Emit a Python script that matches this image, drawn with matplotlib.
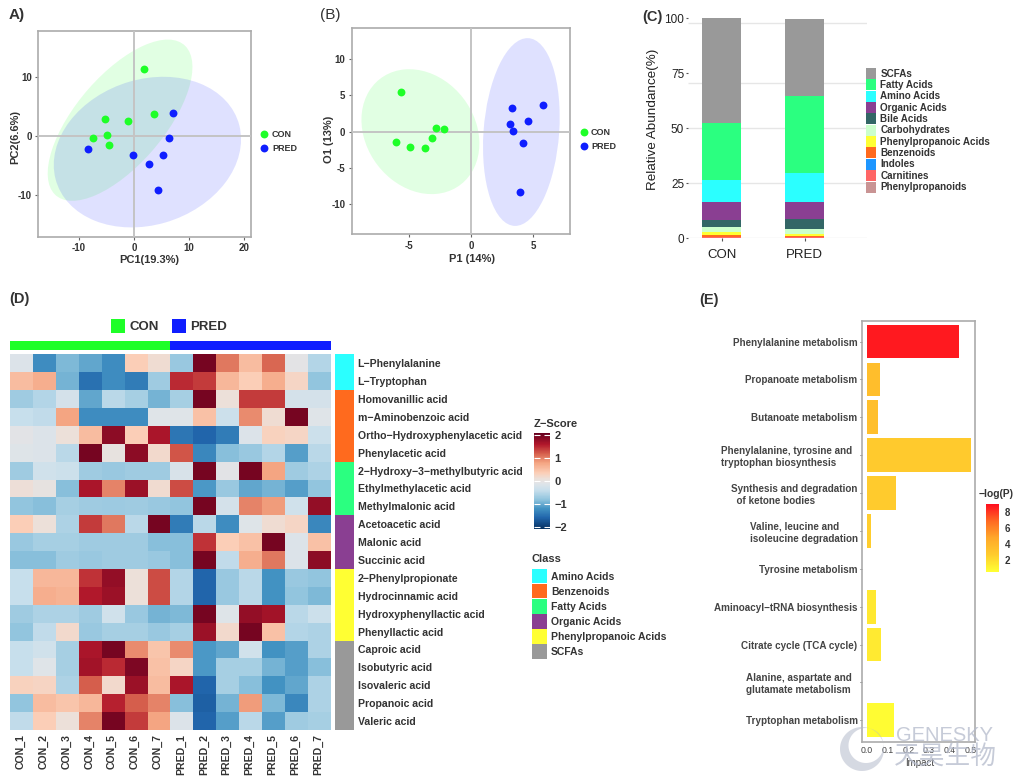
import numpy as np
import matplotlib
matplotlib.use("Agg")
import matplotlib.pyplot as plt
from matplotlib.patches import Ellipse, Rectangle, PathPatch
from matplotlib.path import Path
from matplotlib.colors import LinearSegmentedColormap, Normalize
from matplotlib.cm import ScalarMappable

plt.rcParams['font.family'] = ['Liberation Sans', 'Noto Sans CJK SC', 'DejaVu Sans']
plt.rcParams['axes.unicode_minus'] = False

W, H = 1018, 779
GREEN = '#1EFF28'
BLUE = '#0F1EFF'
DARK = '#333333'

# ---- Panel A data
a_con_x = [1.9, 3.6, -1.1, -5.3, -4.8, -7.4, -4.5]
a_con_y = [11.3, 3.7, 2.5, 2.9, 0.2, -0.3, -1.6]
a_pred_x = [7.0, 6.3, -0.2, 5.3, 2.8, 4.3, -8.3]
a_pred_y = [3.8, -0.3, -3.2, -3.3, -4.7, -9.2, -2.3]
a_ell_con = (-2.5, 2.65, 13.1, 13.65, 0.66)
a_ell_pred = (2.45, -2.75, 16.95, 12.75, 0.17)

# ---- Panel B data
b_con_x = [-5.6, -2.8, -2.2, -3.1, -6.0, -4.9, -3.7]
b_con_y = [5.5, 0.5, 0.4, -0.87, -1.37, -2.1, -2.24]
b_pred_x = [3.25, 5.8, 4.6, 3.1, 3.33, 4.13, 3.92]
b_pred_y = [3.3, 3.6, 1.5, 1.0, 0.14, -1.5, -8.24]
b_ell_con = (-4.05, 0.0, 4.72, 8.58, -0.19)
b_ell_pred = (4.03, -0.05, 3.07, 12.9, 0.16)

# ---- Panel C data (bottom to top)
c_groups = ['CON', 'PRED']
c_classes = ['Phenylpropanoids', 'Carnitines', 'Indoles', 'Benzenoids', 'Phenylpropanoic Acids',
             'Carbohydrates', 'Bile Acids', 'Organic Acids', 'Amino Acids', 'Fatty Acids', 'SCFAs']
c_colors = ['#C99494', '#FF6666', '#1E96FF', '#FF6A1E', '#FFFF33',
            '#CCFFCC', '#336666', '#8A3F92', '#2BFFFF', '#2BFF80', '#999999']
c_con = [0.2, 0.5, 0.05, 0.65, 1.6, 2.0, 3.3, 8.4, 9.8, 25.9, 47.6]
c_pred = [0.2, 0.5, 0.05, 0.45, 0.6, 2.4, 4.4, 7.9, 13.3, 34.9, 34.8]
c_grid = [0, 25, 50, 70.5, 98]

# ---- Panel D data
d_samples = ['CON_1', 'CON_2', 'CON_3', 'CON_4', 'CON_5', 'CON_6', 'CON_7',
             'PRED_1', 'PRED_2', 'PRED_3', 'PRED_4', 'PRED_5', 'PRED_6', 'PRED_7']
d_metabolites = ['L−Phenylalanine', 'L−Tryptophan', 'Homovanillic acid', 'm−Aminobenzoic acid',
                 'Ortho−Hydroxyphenylacetic acid', 'Phenylacetic acid', '2−Hydroxy−3−methylbutyric acid',
                 'Ethylmethylacetic acid', 'Methylmalonic acid', 'Acetoacetic acid', 'Malonic acid',
                 'Succinic acid', '2−Phenylpropionate', 'Hydrocinnamic acid', 'Hydroxyphenyllactic acid',
                 'Phenyllactic acid', 'Caproic acid', 'Isobutyric acid', 'Isovaleric acid',
                 'Propanoic acid', 'Valeric acid']
d_z = [
    [-0.15, -1.25, -0.9, -1.05, -1.25, 0.35, 0.15, -0.75, 2.0, 1.05, 0.55, 1.15, -0.05, -0.55],
    [0.55, 0.7, -0.95, -1.5, -1.25, -1.4, -0.7, 1.5, 1.4, 0.6, 0.35, 0.7, 0.25, -0.8],
    [-0.7, -0.55, -0.25, -1.05, -0.5, -0.65, -0.95, -0.65, 2.0, 0.1, 1.4, 1.4, -0.25, -0.25],
    [-0.4, -0.45, 0.8, -1.25, -1.25, -1.25, -0.1, -0.1, 0.5, -0.35, 0.95, 0.15, 2.0, -0.1],
    [-0.08, -0.15, 0.1, 0.55, 1.85, 0.35, 1.65, -1.45, -1.6, -1.4, -0.15, 0.3, 0.25, -0.35],
    [-0.13, -0.15, -0.5, 2.0, 0.03, 1.85, 0.2, 1.25, -1.3, -0.85, -0.75, -0.55, -1.1, -0.5],
    [-0.7, -0.3, -0.35, -0.7, -0.75, -0.7, -0.7, -0.2, 2.0, -0.08, 2.0, 0.8, -0.7, -0.6],
    [0.12, 0.0, -0.85, 1.65, 1.0, 1.75, 0.17, 1.3, -1.15, -0.75, -1.05, -0.95, -1.1, -0.8],
    [-0.8, -0.85, -0.65, -0.7, -0.72, -0.7, -0.75, -0.8, 2.0, -0.25, 1.0, 0.85, -0.3, 1.8],
    [0.35, 0.1, -0.6, 1.4, 1.05, -0.5, 2.0, -1.4, -0.5, -1.25, -0.13, 0.15, 0.25, -1.3],
    [-0.75, -0.65, -0.65, -0.7, -0.7, -0.7, -0.85, -0.85, 1.45, 0.35, 0.5, 2.0, -0.15, 0.5],
    [-0.85, -0.85, -0.7, -0.75, -0.7, -0.7, -0.75, -0.85, 2.0, -0.45, 0.7, 1.05, -0.15, 1.85],
    [-0.4, 0.6, 0.6, 1.45, 1.8, 0.1, 1.3, -0.55, -1.6, -0.75, -0.5, -1.2, -0.75, -0.8],
    [-0.4, 0.7, 0.65, 1.6, 1.75, 0.1, 1.3, -0.55, -1.6, -0.75, -0.5, -1.2, -0.8, -0.9],
    [-0.7, -0.6, -0.6, -0.7, -0.3, -0.75, -0.95, -0.9, 2.0, -0.12, 1.8, 1.7, -0.5, -0.35],
    [-0.8, -0.45, 0.2, -0.75, -0.65, -0.65, -0.75, -0.65, 1.75, 0.2, 2.0, 0.5, -0.55, -0.6],
    [-0.4, -0.3, -0.65, 1.65, 2.0, 0.95, 0.45, 0.95, -1.15, -1.05, -0.3, -1.2, -1.1, -0.6],
    [-0.4, -0.1, -0.65, 1.7, 1.5, 1.95, 0.5, 0.25, -1.15, -0.65, -0.65, -0.95, -1.1, -0.85],
    [0.3, 0.27, -0.6, 1.2, 0.2, 1.75, 0.55, 1.65, -1.6, -0.65, -0.85, -1.2, -1.05, -0.6],
    [-0.8, 0.55, 0.45, 0.6, 1.55, 1.2, 1.0, -0.85, -1.65, -0.95, 0.85, -0.9, -1.3, -0.6],
    [-0.45, 0.35, 0.1, 1.0, 2.0, 1.4, 0.8, -0.15, -1.6, -1.1, -0.5, -1.1, -0.7, -0.65],
]
d_class_names = ['Amino Acids', 'Benzenoids', 'Fatty Acids', 'Organic Acids', 'Phenylpropanoic Acids', 'SCFAs']
d_class_colors = ['#2BFFFF', '#FF6A1E', '#2BFF80', '#8A3F92', '#FFFF33', '#999999']
d_class_counts = [2, 4, 3, 3, 4, 5]

# ---- Panel E data
e_pathways = ['Phenylalanine metabolism', 'Propanoate metabolism', 'Butanoate metabolism',
              'Phenylalanine, tyrosine and  \ntryptophan biosynthesis',
              'Synthesis and degradation\n  of ketone bodies',
              'Valine, leucine and\nisoleucine degradation', 'Tyrosine metabolism',
              'Aminoacyl−tRNA biosynthesis', 'Citrate cycle (TCA cycle)',
              'Alanine, aspartate and  \nglutamate metabolism  ', 'Tryptophan metabolism']
e_impact = [0.445, 0.063, 0.056, 0.5, 0.143, 0.02, 0.0, 0.043, 0.07, 0.0, 0.129]
e_logp = [8.7, 3.5, 3.4, 2.8, 2.7, 2.6, 2.2, 1.5, 1.4, 1.0, 0.7]

fig = plt.figure(figsize=(W / 100, H / 100), dpi=100, facecolor='white')


def axpx(x0, y0, x1, y1, **kw):
    return fig.add_axes([x0 / W, 1 - y1 / H, (x1 - x0) / W, (y1 - y0) / H], **kw)


def add_ellipse(ax, spec, color):
    cx, cy, ex, ey, r = spec
    cov = np.array([[ex * ex, r * ex * ey], [r * ex * ey, ey * ey]])
    vals, vecs = np.linalg.eigh(cov)
    ang = np.degrees(np.arctan2(vecs[1, 1], vecs[0, 1]))
    ax.add_patch(Ellipse((cx, cy), 2 * np.sqrt(vals[1]), 2 * np.sqrt(vals[0]), angle=ang,
                         facecolor=color, edgecolor='none', alpha=0.13, zorder=2))


def score_panel(ax, cx, cy, px, py, ec, ep, xlim, ylim, xt, yt, xl, yl, xlab_pos, ylab_pos):
    add_ellipse(ax, ec, GREEN)
    add_ellipse(ax, ep, BLUE)
    ax.axhline(0, color='#c4c4c4', lw=1.4, zorder=3)
    ax.axvline(0, color='#c4c4c4', lw=1.4, zorder=3)
    ax.scatter(cx, cy, s=32, color=GREEN, zorder=4, linewidths=0)
    ax.scatter(px, py, s=32, color=BLUE, zorder=4, linewidths=0)
    ax.set_xlim(*xlim)
    ax.set_ylim(*ylim)
    ax.set_xticks(xt)
    ax.set_yticks(yt)
    ax.tick_params(labelsize=7, length=2.5, width=0.8, color='#666666', labelcolor=DARK, pad=2)
    for lab in ax.get_xticklabels() + ax.get_yticklabels():
        lab.set_fontweight('bold')
    for s in ax.spines.values():
        s.set_color('#ababab')
        s.set_linewidth(1.2)
    ax.set_xlabel(xl, fontsize=8, fontweight='bold', color=DARK)
    ax.set_ylabel(yl, fontsize=8, fontweight='bold', color=DARK)
    ax.xaxis.set_label_coords(*xlab_pos)
    ax.yaxis.set_label_coords(*ylab_pos)


axA = axpx(38.3, 30.7, 251, 236.7)
score_panel(axA, a_con_x, a_con_y, a_pred_x, a_pred_y, a_ell_con, a_ell_pred,
            (-17.3, 21.2), (-17.07, 17.8), [-10, 0, 10, 20], [-10, 0, 10],
            'PC1(19.3%)', 'PC2(6.6%)', (0.52, -0.09), (-0.086, 0.485))

axB = axpx(351.7, 28.3, 569.7, 234.3)
score_panel(axB, b_con_x, b_con_y, b_pred_x, b_pred_y, b_ell_con, b_ell_pred,
            (-9.55, 7.9), (-14.1, 14.2), [-5, 0, 5], [-10, -5, 0, 5, 10],
            'P1 (14%)', 'O1 (13%)', (0.55, -0.095), (-0.081, 0.46))

# ---- Panel C
axC = axpx(687.7, 18.3, 866.7, 238.3)
axC.hlines(c_grid, -0.41, 1.75, color='#e6e6e6', lw=1.0, zorder=1)
bottom = np.zeros(2)
for name, col, v1, v2 in zip(c_classes, c_colors, c_con, c_pred):
    vals = np.array([v1, v2])
    axC.bar([0, 1], vals, 0.467, bottom=bottom, color=col, zorder=2, linewidth=0)
    bottom += vals
axC.set_xlim(-0.41, 1.75)
axC.set_ylim(0, 100)
axC.set_xticks([0, 1])
axC.set_xticklabels(c_groups, fontsize=9.5, color='#222222')
axC.set_yticks([0, 25, 50, 75, 100])
axC.tick_params(axis='y', labelsize=8.5, length=1.5, width=0.8, color='#555555', labelcolor='#222222', pad=1)
axC.tick_params(axis='x', length=2, width=0.8, color='#555555', pad=6)
for s in axC.spines.values():
    s.set_visible(False)
axC.set_ylabel('Relative Abundance(%)', fontsize=9.7, color='#222222')
axC.yaxis.set_label_coords(-0.16, 0.54)

# ---- Panel D
cmap_rb = LinearSegmentedColormap.from_list('rb', [
    (0.0, '#053061'), (0.119, '#2166ac'), (0.214, '#4393c3'), (0.31, '#92c5de'),
    (0.405, '#c8dfec'), (0.476, '#e0e4e8'), (0.524, '#ece0da'), (0.583, '#fbcfb8'),
    (0.69, '#f4a582'), (0.786, '#d6604d'), (0.881, '#b2182b'), (1.0, '#67001f')])
norm_rb = Normalize(-2.1, 2.1)
axD = axpx(10, 354.3, 331, 730)
Z = np.array(d_z)
axD.pcolormesh(np.arange(Z.shape[1] + 1), np.arange(Z.shape[0] + 1), Z, cmap=cmap_rb, norm=norm_rb)
axD.set_ylim(Z.shape[0], 0)
axD.set_xticks(np.arange(Z.shape[1]) + 0.45)
axD.set_xticklabels(d_samples, rotation=90, fontsize=7.6, fontweight='bold', color=DARK, va='top', ha='center')
axD.yaxis.tick_right()
axD.set_yticks(np.arange(Z.shape[0]) + 0.5)
axD.set_yticklabels(d_metabolites, fontsize=7.6, fontweight='bold', color=DARK)
axD.tick_params(length=0, axis='both')
axD.tick_params(axis='y', pad=19.2)
axD.tick_params(axis='x', pad=3)
for s in axD.spines.values():
    s.set_visible(False)

axTop = axpx(10, 341, 331, 350.3)
axTop.barh([0, 0], [7, 7], left=[0, 7], height=1, color=[GREEN, BLUE])
axTop.set_xlim(0, 14)
axTop.set_ylim(-0.5, 0.5)
axTop.axis('off')

axSide = axpx(335, 354.3, 353.7, 730)
start = 0
for c, n in zip(d_class_colors, d_class_counts):
    axSide.bar(0, n, 1, bottom=start, color=c)
    start += n
axSide.set_xlim(-0.5, 0.5)
axSide.set_ylim(Z.shape[0], 0)
axSide.axis('off')

cax = axpx(534, 433, 550, 529)
cb = fig.colorbar(ScalarMappable(norm=norm_rb, cmap=cmap_rb), cax=cax, ticks=[-2, -1, 0, 1, 2])
cb.outline.set_visible(False)
cax.tick_params(axis='y', direction='in', color='white', width=0.8, length=4, left=True, right=True,
                labelsize=8, labelcolor=DARK, pad=3)
cax.set_yticklabels(['−2', '−1', '0', '1', '2'], fontweight='bold')

# ---- Panel E
e_cmap = LinearSegmentedColormap.from_list('e', ['#FFFF33', '#FFCC2D', '#FFA82A', '#FF6A22', '#FF0F1F'])
e_norm = Normalize(0.54, 8.96)
axE = axpx(861.7, 320.7, 975.3, 742.3)
ypos = np.arange(len(e_pathways))
axE.barh(ypos, e_impact, height=0.89, color=e_cmap(e_norm(np.array(e_logp))), linewidth=0)
axE.set_xlim(-0.024, 0.522)
axE.set_ylim(len(e_pathways) - 0.5 + 0.08, -0.5 - 0.05)
axE.set_xticks([0, 0.1, 0.2, 0.3, 0.4, 0.5])
axE.set_xticklabels(['0.0', '0.1', '0.2', '0.3', '0.4', '0.5'], fontsize=6.3, color='#444444')
axE.set_yticks(ypos)
axE.set_yticklabels(e_pathways, fontsize=7.1, fontweight='bold', color='#444444', multialignment='left')
axE.tick_params(axis='y', length=1.5, width=0.7, color='#666666', pad=1.5)
axE.tick_params(axis='x', length=0, pad=2.5)
for s in axE.spines.values():
    s.set_color('#ababab')
    s.set_linewidth(1.2)

caxE = axpx(986, 504.3, 999, 571.7)
cbE = fig.colorbar(ScalarMappable(norm=e_norm, cmap=e_cmap), cax=caxE, ticks=[2, 4, 6, 8])
cbE.outline.set_visible(False)
caxE.tick_params(axis='y', length=0, labelsize=7, labelcolor=DARK, pad=4)
for lab in caxE.get_yticklabels():
    lab.set_fontweight('bold')

# ---- Overlay in pixel coordinates: titles, legends, watermark
ov = fig.add_axes([0, 0, 1, 1], zorder=20)
ov.set_xlim(0, W)
ov.set_ylim(H, 0)
ov.axis('off')
ov.patch.set_alpha(0)


def t(x, y, s, size=8, weight='bold', color=DARK, ha='left', va='center', **kw):
    ov.text(x, y, s, fontsize=size, fontweight=weight, color=color, ha=ha, va=va, **kw)


t(9, 15, 'A)', 11)
t(320, 15, '(B)', 11, weight='normal')
t(642, 17, '(C)', 10.5)
t(9, 299, '(D)', 10.5)
t(699, 300, '(E)', 10.5)

for dx, ty, tp, tx in [(264, 134, 148, 272), (584, 132, 146, 591)]:
    ov.scatter([dx], [ty], s=32, color=GREEN, linewidths=0)
    ov.scatter([dx], [tp], s=32, color=BLUE, linewidths=0)
    t(tx, ty, 'CON', 6.5)
    t(tx, tp, 'PRED', 6.5)

# Panel C legend
for i, idx in enumerate(range(len(c_classes) - 1, -1, -1)):
    y0 = 68 + i * 11.35
    ov.add_patch(Rectangle((865.7, y0), 10.6, 11.0, color=c_colors[idx], lw=0))
    t(880.5, y0 + 5.5, c_classes[idx], 7.15)

# Panel D group legend
ov.add_patch(Rectangle((111, 319.3), 14, 14, color=GREEN, lw=0))
ov.add_patch(Rectangle((171.7, 319.3), 14, 14, color=BLUE, lw=0))
t(129.7, 326.5, 'CON', 9.5)
t(190.3, 326.5, 'PRED', 9.5)

t(534, 424, 'Z−Score', 8)
t(532, 559, 'Class', 8)
for i, (n, c) in enumerate(zip(d_class_names, d_class_colors)):
    y0 = 568.7 + i * 15.1
    ov.add_patch(Rectangle((532.3, y0), 14.4, 14.6, color=c, lw=0))
    t(551, y0 + 7.8, n, 7.5)

t(996, 494, '−log(P)', 7.4, ha='center')
t(920, 763, 'Impact', 7, color='#444444', ha='center', weight='normal')

# Watermark: crescent globe plus the company name
WM = '#B4BACB'
theta = np.linspace(0, 2 * np.pi, 120)
outer = np.column_stack([862 + 22 * np.cos(theta), 749 + 22 * np.sin(theta)])
inner = np.column_stack([866 + 17.5 * np.cos(theta[::-1]), 745.5 + 17.5 * np.sin(theta[::-1])])
ring = Path(np.vstack([outer, inner]),
            np.r_[Path.MOVETO, [Path.LINETO] * 119, Path.MOVETO, [Path.LINETO] * 119])
ov.add_patch(PathPatch(ring, facecolor=WM, edgecolor='none', alpha=0.55))
t(945, 735.5, 'GENESKY', 14.5, weight='normal', color=WM, ha='center', alpha=0.75)
t(945, 757.5, '天昊生物', 18.5, weight='normal', color=WM, ha='center', alpha=0.75)

fig.savefig('out.png', dpi=100)
